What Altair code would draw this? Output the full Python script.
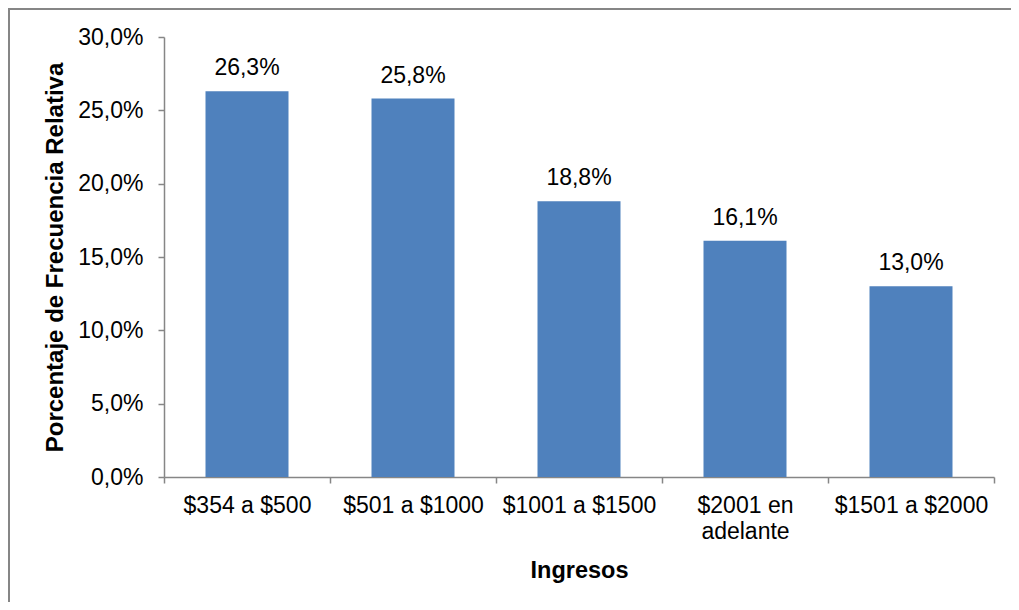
import altair as alt
import pandas as pd

categories = ["$354 a $500", "$501 a $1000", "$1001 a $1500", "$2001 en adelante", "$1501 a $2000"]
values = [26.3, 25.8, 18.8, 16.1, 13.0]
labels = [f"{v:.1f}".replace(".", ",") + "%" for v in values]
y_ticks = [0, 5, 10, 15, 20, 25, 30]

df = pd.DataFrame({"cat": categories, "val": values, "lab": labels})

FONT = "Liberation Sans"
GRAY = "#868686"
W, H = 830, 440
PL, PT, PR, PB = 156, 29, 17, 125

x_enc = alt.X(
    "cat:N",
    sort=None,
    scale=alt.Scale(paddingInner=0, paddingOuter=0),
    axis=alt.Axis(
        title="Ingresos",
        labelAngle=0,
        labelFontSize=23,
        labelFont=FONT,
        labelColor="black",
        labelPadding=11,
        labelLineHeight=26,
        labelBaseline="top",
        labelExpr="datum.label == '$2001 en adelante' ? ['$2001 en', 'adelante'] : datum.label",
        tickBand="extent",
        tickSize=6,
        tickColor=GRAY,
        tickWidth=1.5,
        domainColor=GRAY,
        domainWidth=1.5,
        titleFont=FONT,
        titleFontSize=23.5,
        titleFontWeight="bold",
        titleColor="black",
        titleBaseline="middle",
        titleY=93,
        labelLimit=300,
    ),
)

y_enc = alt.Y(
    "val:Q",
    scale=alt.Scale(domain=[0, 30], nice=False),
    axis=alt.Axis(
        title="Porcentaje de Frecuencia Relativa",
        values=y_ticks,
        labelExpr="replace(format(datum.value, '.1f'), '.', ',') + '%'",
        labelFontSize=23,
        labelFont=FONT,
        labelColor="black",
        labelPadding=15,
        tickSize=6,
        tickColor=GRAY,
        tickWidth=1.5,
        domainColor=GRAY,
        domainWidth=1.5,
        grid=False,
        titleFont=FONT,
        titleFontSize=24,
        titleFontWeight="bold",
        titleColor="black",
        titleAngle=-90,
        titleBaseline="middle",
        titleAlign="center",
        titleX=-109,
        titleY=H / 2,
    ),
)

base = alt.Chart(df)

bars = base.mark_bar(color="#4F81BD", width=alt.RelativeBandSize(0.5)).encode(x=x_enc, y=y_enc)

texts = base.mark_text(
    font=FONT, fontSize=23, color="black", baseline="alphabetic", dy=-16
).encode(x=alt.X("cat:N", sort=None), y=alt.Y("val:Q"), text="lab:N")

border_top = alt.Chart(df.head(1)).mark_rule(color=GRAY, strokeWidth=2).encode(
    x=alt.value(-PL), x2=alt.value(W + PR), y=alt.value(-PT + 1)
)
border_left = alt.Chart(df.head(1)).mark_rule(color=GRAY, strokeWidth=2).encode(
    x=alt.value(-PL + 1), y=alt.value(-PT), y2=alt.value(H + PB)
)

chart = (
    alt.layer(bars, texts, border_top, border_left)
    .properties(
        width=W,
        height=H,
        autosize=alt.AutoSizeParams(type="none"),
        padding={"left": PL, "top": PT, "right": PR, "bottom": PB},
    )
    .configure(background="white")
    .configure_view(stroke="transparent", strokeWidth=0)
)

chart.save("out.html", embed_options={"renderer": "svg", "actions": False})
